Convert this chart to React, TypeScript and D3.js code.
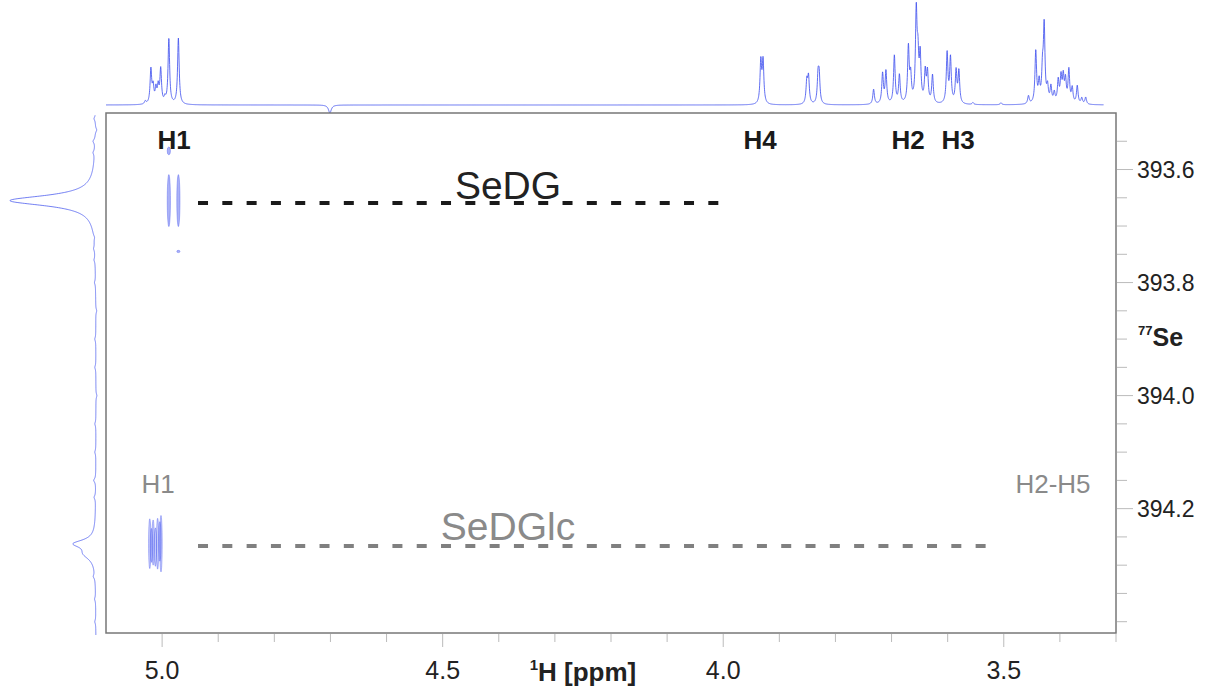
import React from 'react';
import * as d3 from 'd3';

// 1H projection (top): peak centres (ppm), heights, half widths
const hPeakPpm = [5.030, 5.020, 5.016, 5.011, 5.007, 5.0025, 4.995, 4.988, 4.971, 4.701,
  3.933, 3.929, 3.851, 3.848, 3.831, 3.829,
  3.732, 3.716, 3.710, 3.695, 3.686, 3.670, 3.666, 3.656, 3.653, 3.649, 3.640, 3.636, 3.627,
  3.601, 3.595, 3.585, 3.580, 3.555, 3.505,
  3.456, 3.443, 3.437, 3.431, 3.428, 3.422, 3.416, 3.410, 3.403, 3.398, 3.394, 3.390, 3.384, 3.378, 3.369, 3.361, 3.354];
const hPeakInt = [3, 34, 16, 14, 16, 34, 5, 65, 66, -8,
  42, 42, 22, 26, 26, 26,
  15, 30, 32, 48, 28, 55, 25, 88, 40, 45, 30, 30, 28,
  50, 45, 32, 32, 2, 2,
  8, 52, 20, 30, 75, 15, 16, 10, 22, 25, 25, 22, 33, 15, 18, 6, 7];
const hPeakWidth = hPeakPpm.map((p) => (p === 4.701 ? 0.003 : 0.0017));

// 77Se projection (left)
const sePeakPpm = [393.655, 394.262, 394.28,
  393.51, 393.53, 393.55, 393.57, 393.72, 393.74, 393.76, 393.80, 393.85, 393.90, 393.95,
  394.00, 394.05, 394.10, 394.15, 394.18, 394.32, 394.36, 394.40];
const sePeakInt = [86, 20, 10,
  1.5, -1.5, 2, 1.5, -1, 1, 1, 1, -1, 1, 1,
  -1, 1, 1, 2, 1.5, 1.5, 1, 1];
const sePeakWidth = [0.011, 0.008, 0.012,
  0.004, 0.004, 0.004, 0.004, 0.004, 0.004, 0.004, 0.004, 0.004, 0.004, 0.004,
  0.004, 0.004, 0.004, 0.004, 0.004, 0.004, 0.004, 0.004];

// 2D cross peak streaks: 1H ppm, 77Se centre, half span (ppm)
const crossH = [4.988, 4.971, 4.988, 4.971, 5.022, 5.019, 5.016, 5.012, 5.008, 5.004, 5.002];
const crossSe = [393.655, 393.655, 393.567, 393.745, 394.262, 394.265, 394.26, 394.268, 394.262, 394.258, 394.262];
const crossSpan = [0.046, 0.046, 0.007, 0.002, 0.044, 0.03, 0.04, 0.034, 0.045, 0.035, 0.05];

const xTickLabels = ['5.0', '4.5', '4.0', '3.5'];
const yTickLabels = ['393.6', '393.8', '394.0', '394.2'];

const FONT = '"Liberation Sans", Arial, sans-serif';

function lorentz(pos: number[], amp: number[], wid: number[], grid: number[]) {
  return grid.map((g) => {
    let s = 0;
    for (let i = 0; i < pos.length; i++) {
      const d = (g - pos[i]) / wid[i];
      s += amp[i] / (1 + d * d);
    }
    return [g, s] as [number, number];
  });
}

export default function App() {
  const x = d3.scaleLinear().domain([5.1, 3.3]).range([106, 1116]);
  const y = d3.scaleLinear().domain([393.5, 394.42]).range([113, 633]);
  const topY = d3.scaleLinear().domain([0, 100]).range([105, 5]);
  const leftX = d3.scaleLinear().domain([0, 100]).range([96, -4]);

  const hGrid = d3.range(5.1, 3.322, -0.0003);
  const hData = lorentz(hPeakPpm, hPeakInt, hPeakWidth, hGrid);
  const hLine = d3.line<[number, number]>().x((d) => x(d[0])).y((d) => topY(d[1]));

  const seGrid = d3.range(393.504, 394.424, 0.0005);
  const seData = lorentz(sePeakPpm, sePeakInt, sePeakWidth, seGrid);
  const seLine = d3.line<[number, number]>().x((d) => leftX(d[1])).y((d) => y(d[0]));

  const xMinor = d3.range(50, 32, -1).map((v) => v / 10);
  const yMinor = d3.range(393.55, 394.41, 0.05);

  const blue = '#4455ee';

  return (
    <svg width={1210} height={686} style={{ position: 'absolute', left: 0, top: 0, background: '#fff' }}
      fontFamily={FONT}>
      {/* top 1H trace */}
      <path d={hLine(hData) || ''} fill="none" stroke={blue} strokeWidth={1} strokeOpacity={0.85} />
      {/* left 77Se trace */}
      <path d={seLine(seData) || ''} fill="none" stroke={blue} strokeWidth={1} strokeOpacity={0.75} />

      {/* frame */}
      <rect x={106} y={113} width={1010} height={520} fill="#fff" stroke="#777" strokeWidth={1.5} />

      {/* x ticks */}
      {xMinor.map((t) => {
        const major = xTickLabels.includes(t.toFixed(1));
        return <line key={'xt' + t} x1={x(t)} x2={x(t)} y1={634} y2={major ? 647 : 642} stroke="#bbb" strokeWidth={1} />;
      })}
      {xTickLabels.map((t) => (
        <text key={'xl' + t} x={x(+t)} y={679} textAnchor="middle" fontSize={25} fill="#222">{t}</text>
      ))}
      <text x={583} y={681} textAnchor="middle" fontSize={26} fontWeight="bold" fill="#222">
        <tspan fontSize={15} dy={-11}>1</tspan><tspan dy={11}>H [ppm]</tspan>
      </text>

      {/* y ticks */}
      {yMinor.map((t) => {
        const major = yTickLabels.includes(t.toFixed(1)) && Math.abs(t * 10 - Math.round(t * 10)) < 1e-6;
        return <line key={'yt' + t} x1={1117} x2={major ? 1133 : 1127} y1={y(t)} y2={y(t)} stroke="#bbb" strokeWidth={1} />;
      })}
      {yTickLabels.map((t) => (
        <text key={'yl' + t} x={1137} y={y(+t) + 8} fontSize={23} fill="#222">{t}</text>
      ))}
      <text x={1138} y={346} fontSize={25} fontWeight="bold" fill="#222">
        <tspan fontSize={13} dy={-11}>77</tspan><tspan dy={11}>Se</tspan>
      </text>

      {/* cross peaks */}
      {crossH.map((h, i) => (
        <ellipse key={'cp' + i} cx={x(h)} cy={y(crossSe[i])} rx={i < 4 ? 1.6 : 1.2}
          ry={Math.max(1, (y(crossSe[i] + crossSpan[i]) - y(crossSe[i])))}
          fill={blue} fillOpacity={i < 4 ? 0.45 : 0.3} stroke={blue} strokeOpacity={0.55} strokeWidth={0.7} />
      ))}

      {/* dashed correlation lines */}
      <line x1={x(4.936)} x2={x(4.0)} y1={203} y2={203} stroke="#1a1a1a" strokeWidth={4} strokeDasharray="10 14.3" />
      <line x1={x(4.936)} x2={x(3.52)} y1={546} y2={546} stroke="#808080" strokeWidth={4} strokeDasharray="10 14.3" />

      {/* labels */}
      <g fontSize={26} fontWeight="bold" fill="#1a1a1a" textAnchor="middle">
        <text x={174} y={149}>H1</text>
        <text x={760} y={149}>H4</text>
        <text x={908} y={149}>H2</text>
        <text x={958} y={149}>H3</text>
      </g>
      <text x={508} y={199} textAnchor="middle" fontSize={39} fill="#222">SeDG</text>
      <text x={508} y={540} textAnchor="middle" fontSize={39} fill="#8a8a8a">SeDGlc</text>
      <text x={158} y={493} textAnchor="middle" fontSize={26} fill="#8a8a8a">H1</text>
      <text x={1053} y={493} textAnchor="middle" fontSize={26} fill="#8a8a8a">H2-H5</text>
    </svg>
  );
}
